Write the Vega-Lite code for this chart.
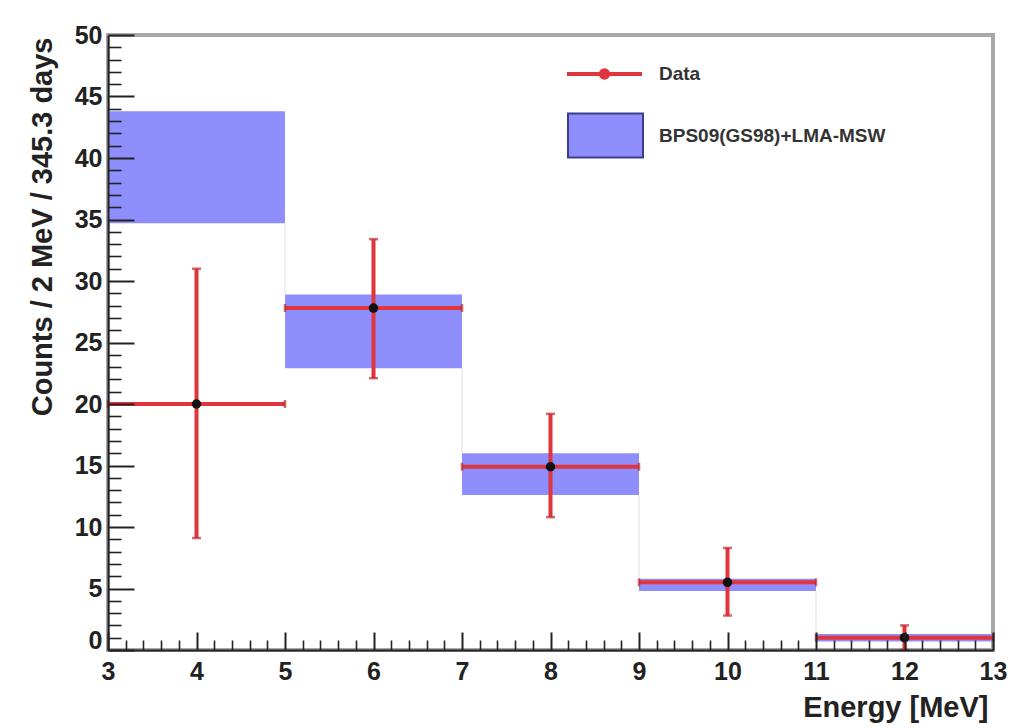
{
  "$schema": "https://vega.github.io/schema/vega-lite/v6.json",
  "width": 885,
  "height": 615,
  "autosize": {"type": "none"},
  "padding": {"left": 108, "top": 35, "right": 23, "bottom": 78},
  "background": "white",
  "config": {
    "view": {"stroke": "#a8a8a8", "strokeWidth": 4, "fill": "white"},
    "font": "Liberation Sans",
    "axis": {"grid": false, "zindex": 1}
  },
  "datasets": {
    "bins": [
      {"lo": 3, "hi": 5, "c": 4, "n": 20, "elo": 9.1, "ehi": 31, "mlo": 34.7, "mhi": 43.8},
      {"lo": 5, "hi": 7, "c": 6, "n": 27.8, "elo": 22.1, "ehi": 33.4, "mlo": 22.9, "mhi": 28.9},
      {"lo": 7, "hi": 9, "c": 8, "n": 14.9, "elo": 10.8, "ehi": 19.2, "mlo": 12.6, "mhi": 16},
      {"lo": 9, "hi": 11, "c": 10, "n": 5.5, "elo": 2.8, "ehi": 8.3, "mlo": 4.8, "mhi": 5.8},
      {"lo": 11, "hi": 13, "c": 12, "n": 1, "elo": 0, "ehi": 2, "mlo": 0.7, "mhi": 1.3}
    ],
    "edges": [
      {"x": 5, "y1": 34.7, "y2": 28.9},
      {"x": 7, "y1": 22.9, "y2": 16},
      {"x": 9, "y1": 12.6, "y2": 5.8},
      {"x": 11, "y1": 4.8, "y2": 1.3}
    ]
  },
  "resolve": {"axis": {"x": "independent", "y": "independent"}},
  "layer": [
    {
      "data": {"name": "bins"},
      "layer": [
        {
          "mark": {"type": "rect"},
          "encoding": {
            "x": {
              "field": "lo", "type": "quantitative",
              "scale": {"domain": [3, 13], "nice": false, "zero": false},
              "axis": {
                "orient": "bottom",
                "values": [3, 4, 5, 6, 7, 8, 9, 10, 11, 12, 13],
                "format": "d",
                "tickSize": -18, "tickWidth": 2, "tickColor": "#222",
                "domainColor": "#222", "domainWidth": 2,
                "labelFont": "Liberation Sans", "labelFontSize": 25, "labelFontWeight": "bold", "labelColor": "#222",
                "labelPadding": 27, "labelFlush": false, "labelOverlap": false,
                "title": "Energy [MeV]", "titleFont": "Liberation Sans", "titleFontSize": 29, "titleFontWeight": "bold", "titleColor": "#222",
                "titleAnchor": "end", "titleAlign": "right", "titleX": 880, "titleY": 66, "titleBaseline": "alphabetic",
                "zindex": 1
              }
            },
            "x2": {"field": "hi"},
            "y": {
              "field": "mlo", "type": "quantitative",
              "scale": {"domain": [0, 50], "nice": false, "zero": false},
              "axis": {
                "orient": "left",
                "values": [0, 5, 10, 15, 20, 25, 30, 35, 40, 45, 50],
                "format": "d",
                "tickSize": -26, "tickWidth": 2, "tickColor": "#222",
                "domainColor": "#222", "domainWidth": 2,
                "labelFont": "Liberation Sans", "labelFontSize": 25, "labelFontWeight": "bold", "labelColor": "#222",
                "labelPadding": 32, "labelFlush": false, "labelOverlap": false,
                "labelOffset": {"condition": {"test": "datum.value === 0", "value": -10}, "value": 0},
                "title": "Counts / 2 MeV / 345.3 days", "titleFont": "Liberation Sans", "titleFontSize": 29, "titleFontWeight": "bold", "titleColor": "#222",
                "titleAngle": 270, "titleAnchor": "end", "titleAlign": "right", "titleX": -66, "titleY": 2, "titleBaseline": "middle",
                "zindex": 1
              }
            },
            "y2": {"field": "mhi"},
            "fill": {
              "datum": "BPS09(GS98)+LMA-MSW",
              "scale": {"range": ["#8e8efc"]},
              "legend": {
                "orient": "none", "legendX": 459, "legendY": 62, "title": null, "padding": 0,
                "symbolType": "M-1,-0.587H1V0.587H-1Z", "symbolSize": 5625,
                "symbolStrokeColor": "#3c3c8c", "symbolStrokeWidth": 2, "symbolOpacity": 1,
                "labelFont": "Liberation Sans", "labelFontSize": 19, "labelFontWeight": "bold", "labelColor": "#333", "labelOffset": 15, "labelLimit": 400
              }
            }
          }
        },
        {
          "data": {"name": "edges"},
          "mark": {"type": "rule", "color": "#e9e2f2", "strokeWidth": 1.2},
          "encoding": {
            "x": {"field": "x", "type": "quantitative"},
            "y": {"field": "y1", "type": "quantitative"},
            "y2": {"field": "y2"}
          }
        },
        {
          "mark": {"type": "rule", "strokeWidth": 4},
          "encoding": {
            "x": {"field": "lo", "type": "quantitative"},
            "x2": {"field": "hi"},
            "y": {"field": "n", "type": "quantitative"},
            "stroke": {
              "datum": "Data",
              "scale": {"range": ["#e0353c"]},
              "legend": {
                "orient": "none", "legendX": 457, "legendY": -0.5, "title": null, "padding": 0,
                "symbolType": "M-1,0H1M-0.1,0A0.1,0.1,0,1,1,0.1,0A0.1,0.1,0,1,1,-0.1,0Z", "symbolSize": 5625,
                "symbolStrokeWidth": 4, "symbolFillColor": "#220000", "symbolOpacity": 1,
                "labelFont": "Liberation Sans", "labelFontSize": 19, "labelFontWeight": "bold", "labelColor": "#333", "labelOffset": 15, "labelLimit": 400
              }
            }
          }
        },
        {
          "mark": {"type": "rule", "strokeWidth": 4, "color": "#e0353c"},
          "encoding": {
            "x": {"field": "c", "type": "quantitative"},
            "y": {"field": "elo", "type": "quantitative"},
            "y2": {"field": "ehi"}
          }
        },
        {
          "mark": {"type": "tick", "orient": "horizontal", "size": 9, "thickness": 2.5, "color": "#c0282e"},
          "encoding": {
            "x": {"field": "c", "type": "quantitative"},
            "y": {"field": "elo", "type": "quantitative"}
          }
        },
        {
          "mark": {"type": "tick", "orient": "horizontal", "size": 9, "thickness": 2.5, "color": "#c0282e"},
          "encoding": {
            "x": {"field": "c", "type": "quantitative"},
            "y": {"field": "ehi", "type": "quantitative"}
          }
        },
        {
          "mark": {"type": "tick", "orient": "vertical", "size": 8, "thickness": 2.5, "color": "#c0282e"},
          "encoding": {
            "x": {"field": "lo", "type": "quantitative"},
            "y": {"field": "n", "type": "quantitative"}
          }
        },
        {
          "mark": {"type": "tick", "orient": "vertical", "size": 8, "thickness": 2.5, "color": "#c0282e"},
          "encoding": {
            "x": {"field": "hi", "type": "quantitative"},
            "y": {"field": "n", "type": "quantitative"}
          }
        },
        {
          "mark": {"type": "point", "filled": true, "color": "#111", "size": 90, "opacity": 1},
          "encoding": {
            "x": {"field": "c", "type": "quantitative"},
            "y": {"field": "n", "type": "quantitative"}
          }
        }
      ]
    },
    {
      "data": {"name": "bins"},
      "mark": {"type": "point", "opacity": 0},
      "encoding": {
        "x": {
          "field": "c", "type": "quantitative",
          "scale": {"domain": [3, 13], "nice": false, "zero": false},
          "axis": {
            "orient": "bottom",
            "values": [3.2, 3.4, 3.6, 3.8, 4.2, 4.4, 4.6, 4.8, 5.2, 5.4, 5.6, 5.8, 6.2, 6.4, 6.6, 6.8, 7.2, 7.4, 7.6, 7.8, 8.2, 8.4, 8.6, 8.8, 9.2, 9.4, 9.6, 9.8, 10.2, 10.4, 10.6, 10.8, 11.2, 11.4, 11.6, 11.8, 12.2, 12.4, 12.6, 12.8],
            "tickSize": -10, "tickWidth": 1.6, "tickColor": "#222",
            "domain": false, "labels": false, "title": null, "zindex": 1
          }
        },
        "y": {
          "field": "n", "type": "quantitative",
          "scale": {"domain": [0, 50], "nice": false, "zero": false},
          "axis": {
            "orient": "left",
            "values": [1, 2, 3, 4, 6, 7, 8, 9, 11, 12, 13, 14, 16, 17, 18, 19, 21, 22, 23, 24, 26, 27, 28, 29, 31, 32, 33, 34, 36, 37, 38, 39, 41, 42, 43, 44, 46, 47, 48, 49],
            "tickSize": -13, "tickWidth": 1.6, "tickColor": "#222",
            "domain": false, "labels": false, "title": null, "zindex": 1
          }
        }
      }
    }
  ]
}
